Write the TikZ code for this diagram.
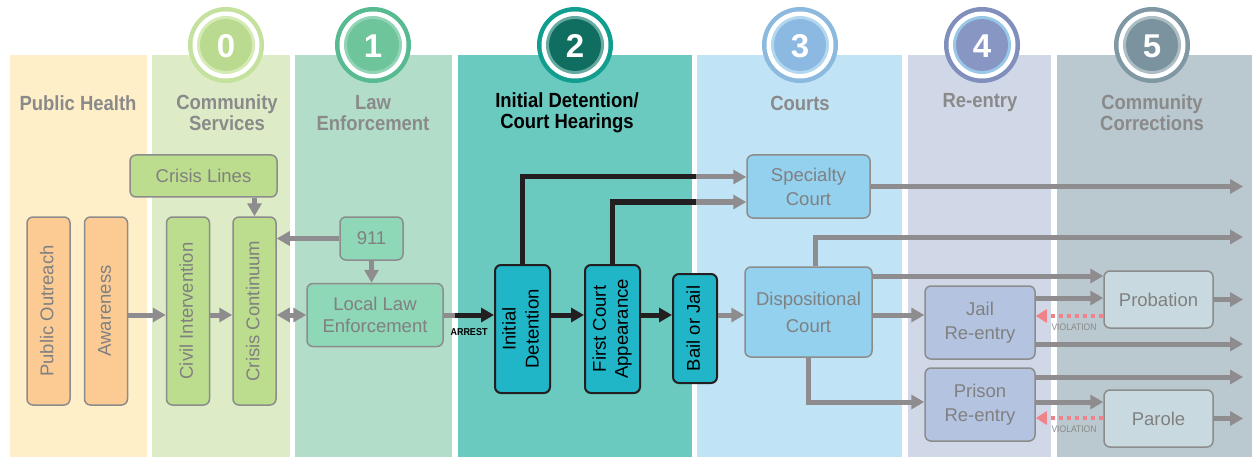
\documentclass[tikz,border=0pt]{standalone}
\usepackage{fontspec}
\usepackage{graphicx}
\setmainfont{Liberation Sans}
\newfontfamily\headfont[FakeStretch=0.9]{Liberation Sans}
\usetikzlibrary{arrows.meta}

% stage colours
\definecolor{phband}{RGB}{254,239,200}
\definecolor{csband}{RGB}{221,236,198}
\definecolor{leband}{RGB}{178,222,201}
\definecolor{idband}{RGB}{106,202,192}
\definecolor{coband}{RGB}{192,228,245}
\definecolor{reband}{RGB}{208,215,230}
\definecolor{ccband}{RGB}{186,200,207}
% box colours
\definecolor{orangebox}{RGB}{251,203,147}
\definecolor{greenbox}{RGB}{188,221,142}
\definecolor{lebox}{RGB}{142,215,183}
\definecolor{cyanbox}{RGB}{32,181,199}
\definecolor{cobox}{RGB}{148,209,238}
\definecolor{rebox}{RGB}{180,196,224}
\definecolor{ccbox}{RGB}{200,218,223}
\definecolor{boxline}{RGB}{140,140,140}
\definecolor{boxtext}{RGB}{128,128,128}
\definecolor{headgray}{RGB}{138,138,138}
\definecolor{flowgray}{RGB}{142,140,142}
\definecolor{flowblack}{RGB}{35,31,32}
\definecolor{violred}{RGB}{240,130,138}

\newcommand{\vtext}[1]{\rotatebox{90}{\begin{tabular}{@{}c@{}}#1\end{tabular}}}

\tikzset{
  box/.style={draw=boxline, line width=1.5pt, rounded corners=6pt, text=boxtext,
    font=\fontsize{18.5}{24}\selectfont, align=center, inner sep=1pt},
  keybox/.style={box, draw=flowblack, line width=2pt, fill=cyanbox, text=black},
  stagehead/.style={font=\headfont\bfseries\fontsize{20.5}{21}\selectfont, text=headgray, align=center},
  stagenum/.style={font=\bfseries\fontsize{33}{33}\selectfont, text=white},
  flow/.style={draw=flowgray, line width=5pt, -{Triangle[length=13pt,width=14pt]}},
  kflow/.style={draw=flowblack, line width=5pt, -{Triangle[length=13pt,width=14pt]}},
  kline/.style={draw=flowblack, line width=5pt},
  gline/.style={draw=flowgray, line width=5pt},
  viol/.style={draw=violred, line width=4pt, dash pattern=on 4pt off 4pt, -{Triangle[length=11pt,width=13pt]}},
  smalltag/.style={font=\headfont\fontsize{9.5}{10}\selectfont, text=headgray, inner sep=0pt}
}

\begin{document}
\begin{tikzpicture}[x=1pt,y=-1pt]
\useasboundingbox (0,0) rectangle (1252,457);

% bands
\fill[phband] (10,55) rectangle (147,457);
\fill[csband] (152,55) rectangle (290,457);
\fill[leband] (295,55) rectangle (452,457);
\fill[idband] (458,55) rectangle (692,457);
\fill[coband] (697,55) rectangle (902,457);
\fill[reband] (908,55) rectangle (1051,457);
\fill[ccband] (1057,55) rectangle (1252,457);

% stage circles
\fill[color={rgb,255:red,196;green,226;blue,158}] (226,45) circle[radius=38pt];
\fill[white] (226,45) circle[radius=33.5pt];
\fill[color={rgb,255:red,212;green,235;blue,182}] (226,45) circle[radius=29pt];
\fill[color={rgb,255:red,186;green,219;blue,143}] (226,45) circle[radius=26pt];
\node[stagenum] (n0) at (226,46) {0};

\fill[color={rgb,255:red,88;green,186;blue,145}] (373,45) circle[radius=38pt];
\fill[white] (373,45) circle[radius=33.5pt];
\fill[color={rgb,255:red,145;green,212;blue,182}] (373,45) circle[radius=29pt];
\fill[color={rgb,255:red,110;green,196;blue,155}] (373,45) circle[radius=26pt];
\node[stagenum] (n1) at (373,46) {1};

\fill[color={rgb,255:red,18;green,158;blue,142}] (575,45) circle[radius=38pt];
\fill[white] (575,45) circle[radius=33.5pt];
\fill[color={rgb,255:red,100;green,170;blue,160}] (575,45) circle[radius=29pt];
\fill[color={rgb,255:red,15;green,110;blue,95}] (575,45) circle[radius=26pt];
\node[stagenum] (n2) at (575,46) {2};

\fill[color={rgb,255:red,140;green,185;blue,222}] (800,45) circle[radius=38pt];
\fill[white] (800,45) circle[radius=33.5pt];
\fill[color={rgb,255:red,178;green,216;blue,240}] (800,45) circle[radius=29pt];
\fill[color={rgb,255:red,140;green,185;blue,225}] (800,45) circle[radius=26pt];
\node[stagenum] (n3) at (800,46) {3};

\fill[color={rgb,255:red,128;green,143;blue,188}] (982,45) circle[radius=38pt];
\fill[white] (982,45) circle[radius=33.5pt];
\fill[color={rgb,255:red,152;green,200;blue,230}] (982,45) circle[radius=29pt];
\fill[color={rgb,255:red,135;green,150;blue,195}] (982,45) circle[radius=26pt];
\node[stagenum] (n4) at (982,46) {4};

\fill[color={rgb,255:red,128;green,152;blue,163}] (1152,45) circle[radius=38pt];
\fill[white] (1152,45) circle[radius=33.5pt];
\fill[color={rgb,255:red,172;green,190;blue,196}] (1152,45) circle[radius=29pt];
\fill[color={rgb,255:red,122;green,147;blue,158}] (1152,45) circle[radius=26pt];
\node[stagenum] (n5) at (1152,46) {5};

% stage titles
\node[stagehead] (hph) at (78,103) {Public Health};
\node[stagehead] (hcs) at (227,113) {Community\\Services};
\node[stagehead] (hle) at (373,113) {Law\\Enforcement};
\node[stagehead, text=black] (hid) at (567,113) {Initial Detention/\\Court Hearings};
\node[stagehead] (hco) at (800,103) {Courts};
\node[stagehead] (hre) at (980,103) {Re-entry};
\node[stagehead] (hcc) at (1152,113) {Community\\Corrections};

% boxes
\node[box, fill=orangebox, minimum width=43, minimum height=188] (po) at (48.5,311) {\vtext{Public Outreach}};
\node[box, fill=orangebox, minimum width=43, minimum height=188] (aw) at (106,311) {\vtext{Awareness}};
\node[box, fill=greenbox, minimum width=147, minimum height=42] (cl) at (203.5,176) {Crisis Lines};
\node[box, fill=greenbox, minimum width=43, minimum height=188] (ci) at (188,311) {\vtext{Civil Intervention}};
\node[box, fill=greenbox, minimum width=43, minimum height=188] (cc) at (254.5,311) {\vtext{Crisis Continuum}};
\node[box, fill=lebox, minimum width=63, minimum height=43] (n911) at (371.5,238.5) {911};
\node[box, fill=lebox, minimum width=136, minimum height=63, font=\fontsize{18.5}{22}\selectfont] (lle) at (375,315) {Local Law\\Enforcement};
\node[keybox, minimum width=55, minimum height=128, font=\fontsize{18.5}{23}\selectfont] (idt) at (522.5,329) {\vtext{Initial\\Detention}};
\node[keybox, minimum width=55, minimum height=128, font=\fontsize{18.5}{22}\selectfont] (fca) at (612.5,329) {\vtext{First Court\\Appearance}};
\node[keybox, minimum width=44, minimum height=109] (bj) at (695,328.5) {\vtext{Bail or Jail}};
\node[box, fill=cobox, minimum width=123, minimum height=63] (sc) at (808.5,186.5) {Specialty\\Court};
\node[box, fill=cobox, minimum width=127, minimum height=90, font=\fontsize{18.5}{27}\selectfont] (dc) at (808.5,312) {Dispositional\\Court};
\node[box, fill=rebox, minimum width=110, minimum height=73] (jr) at (980,322.5) {Jail\\Re-entry};
\node[box, fill=rebox, minimum width=110, minimum height=73] (pr) at (980,404.5) {Prison\\Re-entry};
\node[box, fill=ccbox, minimum width=109, minimum height=57] (prob) at (1158.5,299.5) {Probation};
\node[box, fill=ccbox, minimum width=109, minimum height=57] (par) at (1158.5,418.5) {Parole};

% helper levels
\coordinate (edge) at (1243,0);
\coordinate (gs) at (696,0);
\coordinate (ys1) at (0,177);
\coordinate (ys2) at (0,202);
\coordinate (yt) at (0,237);
\coordinate (ya) at (0,276);
\coordinate (yb) at (0,298);
\coordinate (yv1) at (0,316);
\coordinate (yc) at (0,344);
\coordinate (yd) at (0,377);
\coordinate (ye) at (0,402);
\coordinate (yv2) at (0,418);
\coordinate (xu) at (815,0);
\coordinate (a1) at (455,315);

% community side
\draw[flow] (cc.north |- cl.south) -- (cc.north);
\draw[flow] (n911.west) -- (n911.west -| cc.east);
\draw[flow] (n911.south) -- (n911.south |- lle.north);
\draw[flow] (aw.east |- lle) -- (ci.west |- lle);
\draw[flow] (ci.east |- lle) -- (cc.west |- lle);
\draw[flow, {Triangle[length=13pt,width=14pt]}-{Triangle[length=13pt,width=14pt]}] (cc.east |- lle) -- (lle.west);

% arrest and hearings
\draw[gline] (lle.east) -- (a1);
\draw[kflow] (a1) -- (a1 -| idt.west);
\node[font=\headfont\bfseries\fontsize{10}{10}\selectfont, inner sep=0pt] (arrest) at (469,332) {ARREST};
\draw[kflow] (idt.east |- lle) -- (fca.west |- lle);
\draw[kflow] (fca.east |- lle) -- (bj.west |- lle);
\draw[flow] (bj.east |- lle) -- (dc.west |- lle);
\draw[kline] (idt.north) |- (gs |- ys1);
\draw[flow] (gs |- ys1) -- (sc.west |- ys1);
\draw[kline] (fca.north) |- (gs |- ys2);
\draw[flow] (gs |- ys2) -- (sc.west |- ys2);

% courts onward
\draw[flow] (sc.east) -- (sc.east -| edge);
\draw[flow] (xu |- dc.north) |- (edge |- yt);
\draw[flow] (dc.east |- ya) -- (prob.west |- ya);
\draw[flow] (dc.east |- lle) -- (jr.west |- lle);
\draw[flow] (dc.south) |- (pr.west |- ye);
\draw[flow] (jr.east |- yb) -- (prob.west |- yb);
\draw[viol] (prob.west |- yv1) -- (jr.east |- yv1);
\node[smalltag] (v1) at (1074,327) {VIOLATION};
\draw[flow] (jr.east |- yc) -- (edge |- yc);
\draw[flow] (pr.east |- yd) -- (edge |- yd);
\draw[flow] (pr.east |- ye) -- (par.west |- ye);
\draw[viol] (par.west |- yv2) -- (pr.east |- yv2);
\node[smalltag] (v2) at (1074,429) {VIOLATION};
\draw[flow] (prob.east) -- (prob.east -| edge);
\draw[flow] (par.east) -- (par.east -| edge);
\end{tikzpicture}
\end{document}
